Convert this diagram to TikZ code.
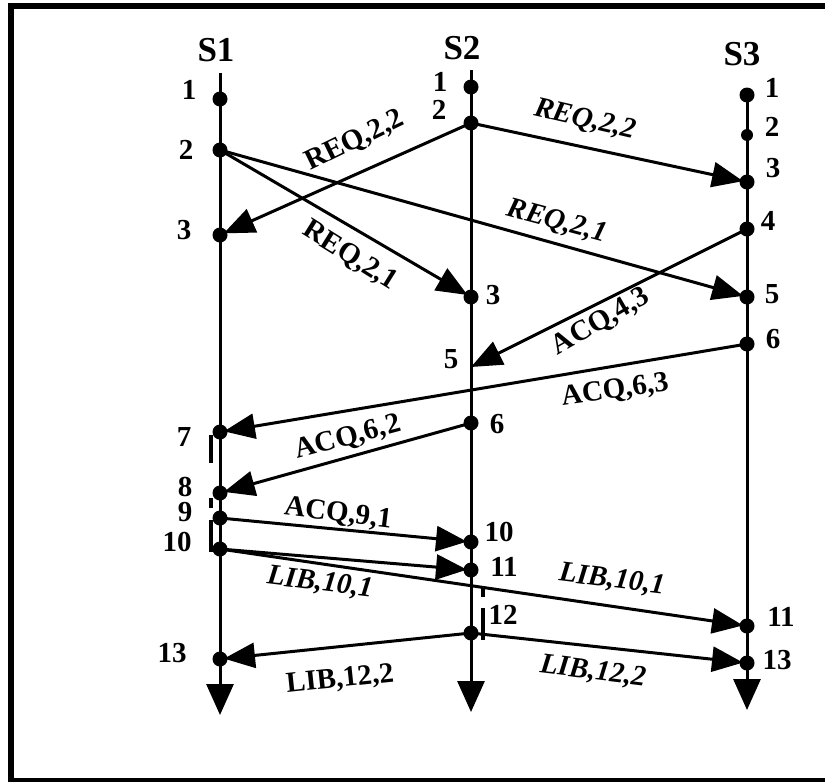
\documentclass[tikz,border=0pt]{standalone}
\usepackage{fontspec}
\setmainfont{Liberation Serif}
\usetikzlibrary{arrows.meta}
\begin{document}
\begin{tikzpicture}[x=1pt,y=-1pt,
  dot/.style={circle,fill=black,inner sep=0pt,minimum size=15pt},
  smalldot/.style={circle,fill=black,inner sep=0pt,minimum size=12pt},
  axis/.style={line width=3pt,-{Triangle[length=31pt,width=27pt]}},
  msg/.style={line width=3pt,-{Triangle[length=31pt,width=25pt]},shorten >=4pt},
  tick/.style={line width=4pt},
  num/.style={inner sep=0pt,font=\fontsize{29}{29}\selectfont\bfseries},
  proc/.style={inner sep=0pt,font=\fontsize{35}{35}\selectfont\bfseries},
  lab/.style={inner sep=0pt,font=\fontsize{29}{29}\selectfont\bfseries},
  labi/.style={inner sep=0pt,font=\fontsize{29}{29}\selectfont\bfseries\itshape}]
\useasboundingbox (0,0) rectangle (825,782);
\clip (0,0) rectangle (825,782);
% frame
\draw[line width=6pt] (840,6) -- (11,6) -- (11,781) -- (840,781);
% process headers
\node[proc] (hS1) at (216,50) {S1};
\node[proc] (hS2) at (462,48) {S2};
\node[proc] (hS3) at (742,54) {S3};
% time lines
\coordinate (t1) at (220,73);
\coordinate (e1) at (220,715);
\coordinate (t2) at (471,70);
\coordinate (e2) at (471,712);
\coordinate (t3) at (747,88);
\coordinate (e3) at (747,710);
\draw[axis] (t1) -- (e1);
\draw[axis] (t2) -- (e2);
\draw[axis] (t3) -- (e3);
% events S1
\node[dot] (a1) at (220,99) {};
\node[dot] (a2) at (220,150) {};
\node[dot] (a3) at (220,235) {};
\node[dot] (a7) at (220,432) {};
\node[dot] (a8) at (220,493) {};
\node[dot] (a9) at (220,518) {};
\node[dot] (a10) at (220,549) {};
\node[dot] (a13) at (220,659) {};
% events S2
\node[dot] (b1) at (471,87) {};
\node[dot] (b2) at (471,123) {};
\node[dot] (b3) at (471,297) {};
\coordinate (b5) at (471,367);
\node[dot] (b6) at (471,423) {};
\node[dot] (b10) at (471,542) {};
\node[dot] (b11) at (471,570) {};
\node[dot] (b12) at (471,633) {};
% events S3
\node[dot] (c1) at (747,95) {};
\node[smalldot] (c2) at (747,135) {};
\node[dot] (c3) at (747,182) {};
\node[dot] (c4) at (747,229) {};
\node[dot] (c5) at (747,297) {};
\node[dot] (c6) at (747,344) {};
\node[dot] (c11) at (747,626) {};
\node[dot] (c13) at (747,663) {};
% event numbers
\node[num] at (189,90) {1};
\node[num] at (186,150) {2};
\node[num] at (184,230) {3};
\node[num] at (184,437) {7};
\node[num] at (185,487) {8};
\node[num] at (185,512) {9};
\node[num] at (177,542) {10};
\node[num] at (172,653) {13};
\node[num] at (440,82) {1};
\node[num] at (439,110) {2};
\node[num] at (493,295) {3};
\node[num] at (451,359) {5};
\node[num] at (497,424) {6};
\node[num] at (499,532) {10};
\node[num] at (504,567) {11};
\node[num] at (503,615) {12};
\node[num] at (772,88) {1};
\node[num] at (772,127) {2};
\node[num] at (773,168) {3};
\node[num] at (768,221) {4};
\node[num] at (772,294) {5};
\node[num] at (773,339) {6};
\node[num] at (781,617) {11};
\node[num] at (777,660) {13};
% ticks
\coordinate (k1a) at (211,435); \coordinate (k1b) at (211,463);
\coordinate (k2a) at (211,498); \coordinate (k2b) at (211,508);
\coordinate (k3a) at (211,520); \coordinate (k3b) at (211,552);
\coordinate (k4a) at (483,587); \coordinate (k4b) at (483,597);
\coordinate (k5a) at (483,608); \coordinate (k5b) at (483,640);
\draw[tick] (k1a) -- (k1b);
\draw[tick] (k2a) -- (k2b);
\draw[tick] (k3a) -- (k3b);
\draw[tick] (k4a) -- (k4b);
\draw[tick] (k5a) -- (k5b);
% messages
\draw[msg] (b2.center) -- (a3.center);
\draw[msg] (b2.center) -- (c3.center);
\draw[msg] (a2.center) -- (b3.center);
\draw[msg] (a2.center) -- (c5.center);
\draw[msg,shorten >=0pt] (c4.center) -- (b5);
\draw[msg] (c6.center) -- (a7.center);
\draw[msg] (b6.center) -- (a8.center);
\draw[msg] (a9.center) -- (b10.center);
\draw[msg] (a10.center) -- (b11.center);
\draw[msg] (a10.center) -- (c11.center);
\draw[msg] (b12.center) -- (a13.center);
\draw[msg] (b12.center) -- (c13.center);
% message labels
\node[lab,rotate=26] at (355,141) {REQ,2,2};
\node[labi,rotate=-13] at (585,120) {REQ,2,2};
\node[lab,rotate=-32] at (350,256) {REQ,2,1};
\node[labi,rotate=-15] at (557,222) {REQ,2,1};
\node[lab,rotate=30] at (601,322) {ACQ,4,3};
\node[lab,rotate=8] at (615,391) {ACQ,6,3};
\node[lab,rotate=15] at (348,438) {ACQ,6,2};
\node[lab,rotate=-7] at (338,514) {ACQ,9,1};
\node[labi,rotate=-7] at (320,583) {LIB,10,1};
\node[labi,rotate=-7] at (612,580) {LIB,10,1};
\node[lab,rotate=6] at (340,680) {LIB,12,2};
\node[labi,rotate=-7] at (593,672) {LIB,12,2};
\end{tikzpicture}
\end{document}
